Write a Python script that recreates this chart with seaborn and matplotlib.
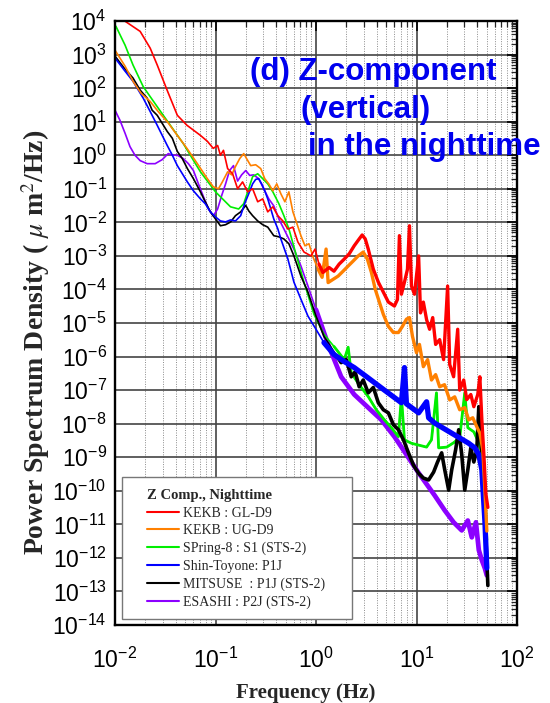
import numpy as np
import pandas as pd
import matplotlib
matplotlib.use("Agg")
import matplotlib.pyplot as plt
import seaborn as sns
from matplotlib.ticker import LogLocator, NullFormatter
from matplotlib.patches import Rectangle
from matplotlib.lines import Line2D

# ---------------- data ----------------
series_labels = ["KEKB : GL-D9", "KEKB : UG-D9", "SPring-8 : S1 (STS-2)",
                 "Shin-Toyone: P1J", "MITSUSE  : P1J (STS-2)", "ESASHI : P2J (STS-2)"]
series_colors = ["#FF0000", "#FF8000", "#00EE00", "#0000FF", "#000000", "#8C00FF"]
legend_title = "Z Comp., Nighttime"
x_label = "Frequency (Hz)"
y_label = "Power Spectrum Density ( $\\mu$ m$^{2}$/Hz)"
title_lines = ["(d) Z-component", "(vertical)", "in the nighttime"]

red_freq = [0.010, 0.0125, 0.0178, 0.0224, 0.0263, 0.0331, 0.0417, 0.052, 0.0708, 0.083,
            0.095, 0.105, 0.112, 0.12, 0.132, 0.148, 0.166, 0.186, 0.209, 0.234,
            0.263, 0.295, 0.331, 0.372, 0.417, 0.468, 0.525, 0.589, 0.66, 0.76,
            0.89, 0.98, 1.07, 1.17, 1.35, 1.51, 1.7, 1.9, 2.14, 2.4,
            2.69, 2.88, 3.09, 3.31, 3.72, 4.17, 4.68, 5.25, 6.03, 6.46,
            6.76, 7.08, 7.59, 8.13, 8.51, 8.91, 9.55, 10.5, 10.96, 11.7,
            12.6, 13.5, 14.5, 15.5, 17.0, 18.6, 20.4, 21.4, 23.4, 25.7,
            26.9, 29.5, 31.6, 34.7, 37.2, 40.7, 42.7, 44.7, 46.8, 49.0, 51.3]
red_psd = [1.6e4, 1.0e4, 4.9e3, 1.55e3, 4.9e2, 85, 15.5, 7.8, 3.9, 2.6,
           1.6, 1.95, 1.0, 1.4, 0.4, 0.28, 0.1, 0.16, 0.081, 0.1,
           0.041, 0.05, 0.0205, 0.029, 0.0158, 0.011, 6.3e-3, 7.2e-3, 2.6e-3, 1.3e-3,
           1.0e-3, 1.6e-3, 5.7e-4, 3.2e-4, 4.5e-4, 3.5e-4, 5.7e-4, 7.9e-4, 1.15e-3, 2.0e-3,
           3.2e-3, 4.2e-3, 3.2e-3, 1.6e-3, 4e-4, 1.65e-4, 8.3e-5, 4.2e-5, 3.2e-5, 5e-5,
           4e-3, 7.2e-5, 1.65e-4, 4e-4, 7.9e-3, 1.26e-4, 7.2e-5, 1e-3, 2.0e-5, 4.2e-5,
           1.26e-5, 6.5e-6, 1.45e-5, 2.3e-6, 3.2e-6, 8.1e-7, 1.26e-4, 5.8e-7, 2.5e-7, 6.5e-6,
           1.0e-7, 2.0e-7, 5.2e-8, 7.4e-8, 3.2e-8, 7.4e-8, 2.5e-7, 1.3e-8, 1.2e-9, 8e-11, 3.2e-11]

orange_freq = [0.01, 0.0126, 0.0151, 0.0182, 0.0224, 0.0269, 0.0331, 0.0417, 0.052, 0.066,
               0.083, 0.095, 0.107, 0.117, 0.132, 0.145, 0.158, 0.174, 0.191, 0.204,
               0.224, 0.251, 0.282, 0.309, 0.339, 0.372, 0.407, 0.447, 0.49, 0.537,
               0.589, 0.646, 0.708, 0.776, 0.851, 0.933, 1.05, 1.15, 1.26, 1.32,
               1.48, 1.66, 1.86, 2.09, 2.34, 2.63, 2.95, 3.24, 3.55, 3.89,
               4.27, 4.68, 5.25, 5.89, 6.61, 7.24, 7.94, 8.51, 9.12, 10.0,
               10.7, 11.7, 12.9, 14.1, 15.5, 17.0, 19.0, 21.4, 24.0, 26.9,
               30.2, 33.1, 36.3, 39.8, 42.7, 45.7, 47.9, 50.1]
orange_psd = [1.35e3, 4.5e2, 1.6e2, 70, 40, 20, 10, 3.9, 1.6, 0.56,
              0.2, 0.115, 0.1, 0.16, 0.32, 0.26, 0.46, 0.79, 1.12, 0.79,
              0.49, 0.52, 0.4, 0.2, 0.14, 0.087, 0.14, 0.071, 0.041, 0.081,
              0.0205, 9.1e-3, 4e-3, 2e-3, 2.3e-3, 9.3e-4, 4e-4, 2.3e-4, 1.6e-3, 1.6e-4,
              2e-4, 2.5e-4, 3.5e-4, 5e-4, 7e-4, 1e-3, 1.3e-3, 8.1e-4, 3.3e-4, 1e-4,
              4.2e-5, 1.8e-5, 7.9e-6, 5.2e-6, 5.2e-6, 7.9e-6, 1.3e-5, 1.45e-5, 4e-6, 1.3e-6,
              2.3e-6, 5e-7, 8.1e-7, 2e-7, 2.9e-7, 1.26e-7, 1.45e-7, 5.1e-8, 6.3e-8, 2.6e-8,
              3e-8, 1.3e-8, 1.5e-8, 8.1e-9, 5.2e-9, 1.65e-9, 1.05e-10, 6.3e-12]

green_freq = [0.0102, 0.0126, 0.0151, 0.0191, 0.0302, 0.0479, 0.0708, 0.1, 0.141, 0.17,
              0.191, 0.214, 0.234, 0.263, 0.295, 0.331, 0.372, 0.427, 0.479, 0.537,
              0.631, 0.759, 0.955, 1.2, 1.51, 1.91, 2.09, 2.24, 2.69, 3.31,
              3.98, 4.79, 5.62, 6.61, 7.08, 7.59, 8.91, 10.5, 12.6, 14.1,
              15.8, 16.6, 20.0, 23.4, 26.9, 30.2, 32.4, 37.2, 42.7, 45.7, 47.9, 50.1]
green_psd = [7e3, 1.9e3, 4.9e2, 1.1e2, 15.5, 2.2, 0.32, 0.081, 0.029, 0.025,
             0.036, 0.1, 0.23, 0.28, 0.2, 0.14, 0.081, 0.036, 0.0158, 6.4e-3,
             1.15e-3, 1.65e-4, 1.8e-5, 4.6e-6, 2e-6, 8.1e-7, 1.9e-6, 3.3e-7, 1.45e-7, 6.4e-8,
             2.6e-8, 1.3e-8, 7.6e-9, 4.1e-9, 6.4e-8, 3.3e-9, 2.6e-9, 2.3e-9, 2e-9, 3.3e-9,
             8.3e-8, 1.9e-9, 2e-9, 2.7e-9, 3.8e-9, 8.3e-8, 7.6e-9, 5.7e-9, 2.3e-9, 8.3e-10,
             1.05e-10, 3.4e-12]

blue_freq = [0.01, 0.0123, 0.0151, 0.0191, 0.0224, 0.0263, 0.0295, 0.0331, 0.0372, 0.0417,
             0.0468, 0.0525, 0.0603, 0.0708, 0.079, 0.089, 0.1, 0.112, 0.126, 0.141,
             0.158, 0.178, 0.195, 0.214, 0.234, 0.251, 0.269, 0.288, 0.309, 0.331,
             0.355, 0.38, 0.417, 0.447, 0.525, 0.603, 0.708, 0.832, 1.0, 1.2,
             1.51, 1.91, 2.4, 3.31, 4.79, 7.08, 7.59, 7.94, 10.5, 12.6,
             13.2, 15.1, 22.4, 33.1, 38.0, 41.7, 44.7, 47.9, 50.1]
blue_psd = [7.9e2, 3.5e2, 1.6e2, 50, 20, 7.8, 3.9, 1.95, 1.0, 0.49,
            0.28, 0.16, 0.087, 0.05, 0.036, 0.0205, 0.0145, 0.011, 0.0103, 0.0118,
            0.011, 0.0158, 0.036, 0.071, 0.14, 0.19, 0.2, 0.14, 0.087, 0.05,
            0.025, 0.0126, 6.4e-3, 3.2e-3, 8.1e-4, 1.65e-4, 5.1e-5, 1.6e-5, 6.5e-6, 2.6e-6,
            1.15e-6, 7.1e-7, 4.7e-7, 2.3e-7, 1e-7, 4.2e-8, 4.7e-7, 3.9e-8, 2.1e-8, 4.5e-8,
            1.5e-8, 1.05e-8, 5.2e-9, 2.6e-9, 1.9e-9, 1.2e-9, 4.2e-10, 1.26e-11, 5e-13]

black_freq = [0.01, 0.0123, 0.0151, 0.0178, 0.0209, 0.0234, 0.0263, 0.0295, 0.0331, 0.0372,
              0.0417, 0.0468, 0.0525, 0.0603, 0.0708, 0.079, 0.089, 0.1, 0.112, 0.126,
              0.141, 0.158, 0.178, 0.2, 0.214, 0.234, 0.263, 0.295, 0.331, 0.38,
              0.427, 0.479, 0.537, 0.603, 0.708, 0.832, 1.0, 1.2, 1.41, 1.62,
              1.78, 2.0, 2.24, 2.45, 2.69, 2.95, 3.31, 3.72, 4.17, 4.68,
              5.25, 5.89, 6.61, 7.41, 8.32, 9.33, 10.5, 11.7, 13.2, 14.8,
              16.2, 17.8, 19.1, 20.9, 22.4, 24.5, 26.3, 28.2, 30.2, 32.4,
              34.7, 37.2, 39.8, 41.7, 43.7, 45.7, 47.9, 50.1, 51.3]
black_psd = [9e2, 4e2, 2e2, 87, 50, 22, 15.5, 8.9, 5.1, 3.2,
             1.3, 0.79, 0.4, 0.2, 0.081, 0.041, 0.0205, 0.0126, 7.9e-3, 8.5e-3,
             0.0102, 0.0158, 0.0205, 0.032, 0.022, 0.0158, 0.011, 8.5e-3, 7.2e-3, 4e-3,
             3.7e-3, 3.2e-3, 2.3e-3, 1e-3, 2.5e-4, 8.3e-5, 1.6e-5, 4e-6, 1.9e-6, 1e-6,
             6.6e-7, 8.1e-7, 2.5e-7, 3.5e-7, 1.26e-7, 2e-7, 8.3e-8, 1.2e-7, 4.2e-8, 2.6e-8,
             2.1e-8, 9.3e-9, 6.6e-9, 3.3e-9, 1.35e-9, 5.8e-10, 3.3e-10, 2.4e-10, 2.1e-10, 3.6e-10,
             7.2e-10, 1.35e-9, 4.2e-10, 1.05e-10, 4.2e-10, 1.65e-9, 6.6e-9, 1.2e-9, 1.05e-10, 4.2e-10,
             1.9e-9, 7.2e-10, 1.65e-9, 3.2e-8, 3.3e-9, 4.2e-10, 1.9e-11, 8.5e-13, 1.5e-13]

purple_freq = [0.01, 0.0112, 0.0126, 0.0141, 0.0158, 0.0178, 0.0209, 0.0251, 0.0295, 0.0339,
               0.0372, 0.0417, 0.0479, 0.0537, 0.0603, 0.0676, 0.0759, 0.0851, 0.095, 0.105,
               0.115, 0.126, 0.138, 0.151, 0.166, 0.182, 0.2, 0.219, 0.24, 0.269,
               0.302, 0.339, 0.38, 0.427, 0.479, 0.537, 0.603, 0.708, 0.832, 1.0,
               1.32, 1.78, 2.4, 3.31, 4.47, 6.03, 7.08, 10.5, 15.1, 19.1,
               23.4, 28.2, 32.4, 35.5, 39.0, 41.7, 44.7, 47.9, 50.1]
purple_psd = [22, 11, 4.5, 1.8, 1.0, 0.69, 0.56, 0.56, 0.74, 1.12,
              1.0, 1.0, 0.79, 0.56, 0.35, 0.14, 0.058, 0.025, 0.0155, 0.025,
              0.062, 0.14, 0.35, 0.49, 0.17, 0.26, 0.35, 0.25, 0.26, 0.2,
              0.1, 0.05, 0.031, 0.0126, 6.4e-3, 3.2e-3, 1.6e-3, 5e-4, 1.26e-4, 2.5e-5,
              2.3e-6, 2.5e-7, 7.4e-8, 3e-8, 1.3e-8, 4.1e-9, 2e-9, 3.4e-10, 7.4e-11, 2.6e-11,
              1.15e-11, 6.6e-12, 1.3e-11, 4.1e-12, 1.15e-11, 1.7e-12, 8.5e-13, 4.9e-13, 3e-13]

# ---------------- styling ----------------
sns.set_theme(style="white")
plt.rcParams["font.family"] = ["Liberation Sans", "DejaVu Sans"]
plt.rcParams["mathtext.fontset"] = "stix"

W, H = 550, 703
fig = plt.figure(figsize=(W / 100, H / 100), dpi=100)
ax_l, ax_r, ax_t, ax_b = 115, 517, 21, 625
ax = fig.add_axes([ax_l / W, 1 - ax_b / H, (ax_r - ax_l) / W, (ax_b - ax_t) / H])
ax.set_xscale("log")
ax.set_yscale("log")

series = {
    "red": (red_freq, red_psd, 0, 1.0, 2.4),
    "orange": (orange_freq, orange_psd, 1, 1.0, 2.4),
    "green": (green_freq, green_psd, 2, 1.5, 2.0),
    "black": (black_freq, black_psd, 4, 1.5, 2.6),
    "purple": (purple_freq, purple_psd, 5, 1.0, 3.4),
    "blue": (blue_freq, blue_psd, 3, 1.2, 3.8),
}
draw_order = ["purple", "green", "black", "blue", "orange", "red"]

for key in draw_order:
    fr, ps, idx, thick_from, thick_lw = series[key]
    df = pd.DataFrame({"freq": fr, "psd": ps})
    sns.lineplot(data=df, x="freq", y="psd", ax=ax, color=series_colors[idx],
                 linewidth=1.2, estimator=None, errorbar=None, sort=False,
                 legend=False, zorder=2)
    sub = df[df["freq"] >= thick_from]
    sns.lineplot(data=sub, x="freq", y="psd", ax=ax, color=series_colors[idx],
                 linewidth=thick_lw, estimator=None, errorbar=None, sort=False,
                 legend=False, zorder=2)

ax.set_xlim(1e-2, 1e2)
ax.set_ylim(1e-14, 1e4)
ax.xaxis.set_major_locator(LogLocator(base=10, numticks=10))
ax.xaxis.set_minor_locator(LogLocator(base=10, subs=np.arange(2, 10), numticks=100))
ax.yaxis.set_major_locator(LogLocator(base=10, numticks=40))
ax.yaxis.set_minor_locator(LogLocator(base=10, subs=np.arange(2, 10), numticks=200))
ax.xaxis.set_minor_formatter(NullFormatter())
ax.yaxis.set_minor_formatter(NullFormatter())

ax.set_axisbelow(True)
ax.grid(which="major", axis="both", color="#444444", linewidth=1.2, linestyle="-")
ax.grid(which="minor", axis="x", color="#8a8a8a", linewidth=0.7, linestyle=(0, (1, 1.5)))

for s in ax.spines.values():
    s.set_color("black")
    s.set_linewidth(1.7)

ax.tick_params(which="major", direction="in", length=7, width=1.2, top=True, right=True,
               labelsize=16.5, pad=6, colors="black")
ax.tick_params(which="minor", direction="in", length=4, width=0.9, top=True, right=True)
ax.tick_params(axis="x", which="major", pad=16)

ax.set_xlabel(x_label, fontfamily="Liberation Serif", fontweight="bold", fontsize=15)
ax.set_ylabel(y_label, fontfamily="Liberation Serif", fontweight="bold", fontsize=20)
ax.xaxis.set_label_coords((306 - ax_l) / (ax_r - ax_l), (ax_b - 683) / (ax_b - ax_t))
ax.yaxis.set_label_coords((52 - ax_l) / (ax_r - ax_l), (ax_b - 342) / (ax_b - ax_t))

# title text in blue
title_pos = [(250, 72), (300, 110), (308, 147)]
for txt, (px, py) in zip(title_lines, title_pos):
    fig.text(px / W, 1 - py / H, txt, color="#0000EE", fontsize=22.5, fontweight="bold",
             fontfamily="Liberation Sans", ha="left", va="center")

# legend with square frame
bx0, bx1, by0, by1 = 122, 352, 477, 619
rect = Rectangle(((bx0 - ax_l) / (ax_r - ax_l), (ax_b - by1) / (ax_b - ax_t)),
                 (bx1 - bx0) / (ax_r - ax_l), (by1 - by0) / (ax_b - ax_t),
                 transform=ax.transAxes, facecolor="white", edgecolor="#777777",
                 linewidth=1.0, zorder=5)
ax.add_patch(rect)
handles = [Line2D([], [], color=c, linewidth=1.5) for c in series_colors]
leg = ax.legend(handles, series_labels, title=legend_title, loc="upper left",
                bbox_to_anchor=((147 - ax_l) / (ax_r - ax_l), (ax_b - 489) / (ax_b - ax_t)),
                frameon=False, borderpad=0, borderaxespad=0,
                prop={"family": "Liberation Serif", "size": 10},
                title_fontproperties={"family": "Liberation Serif", "weight": "bold", "size": 10.5},
                handlelength=2.3, handletextpad=0.3, labelspacing=0.33, alignment="left")
leg.set_zorder(6)

fig.savefig("out.png", dpi=100)
